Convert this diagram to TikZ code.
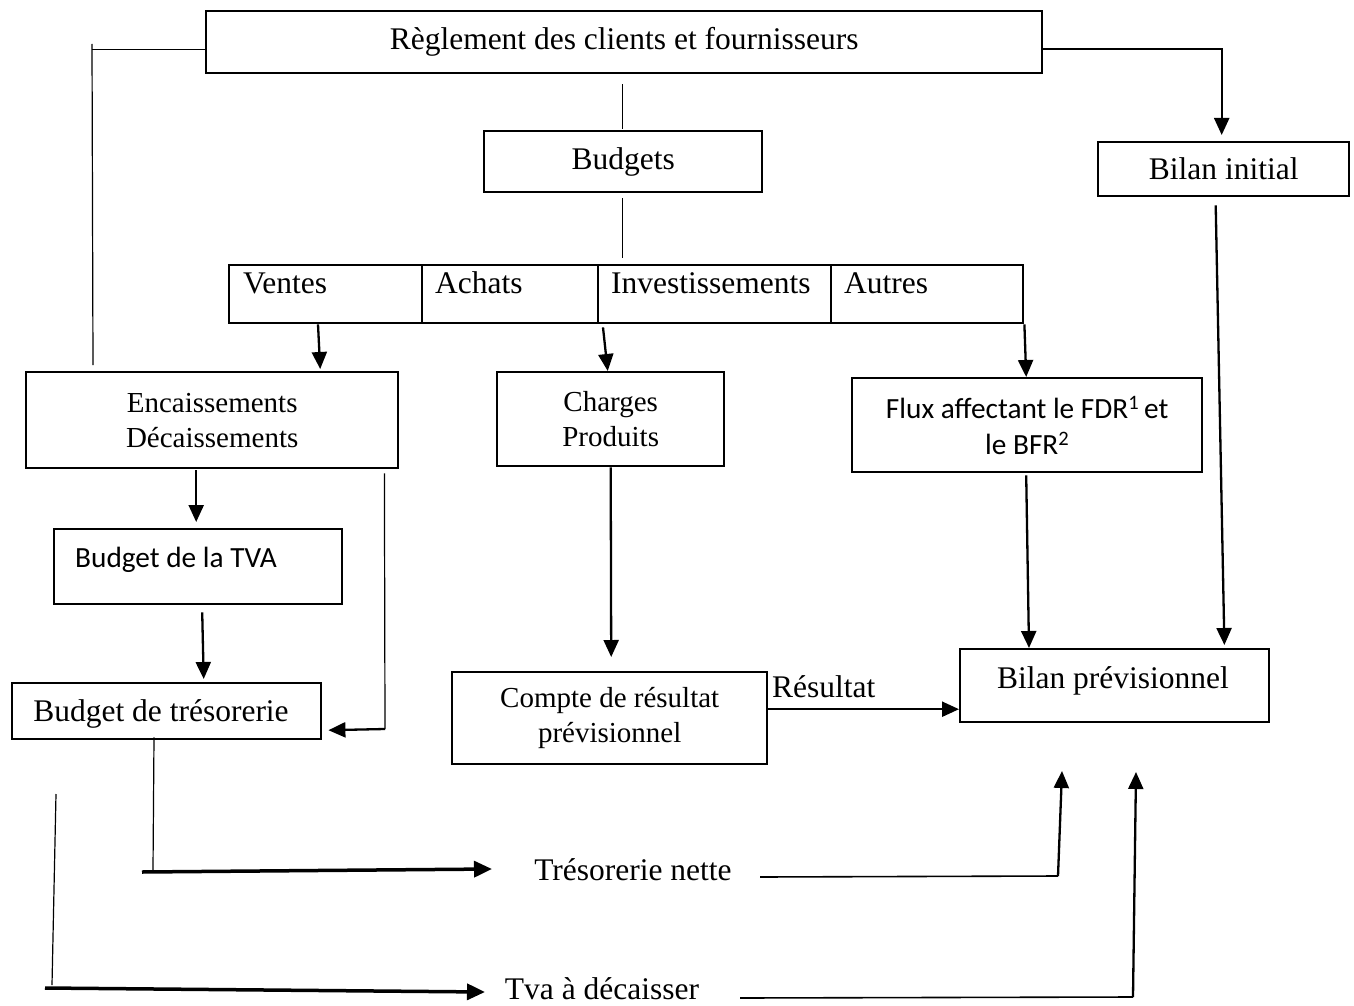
\documentclass[tikz,border=0pt]{standalone}
\usepackage{fontspec}
\setmainfont{Liberation Serif}
\newfontfamily\calibfont{Carlito}
\usetikzlibrary{arrows.meta,calc}
\begin{document}
\begin{tikzpicture}[x=1pt,y=-1pt,
  box/.style={draw,line width=2.4pt,inner sep=0pt,anchor=north west,align=center,
              font=\fontsize{31.5}{36}\selectfont},
  lbl/.style={font=\fontsize{31.5}{36}\selectfont,inner sep=0pt},
  sml/.style={font=\fontsize{29}{35}\selectfont},
  sans/.style={font=\calibfont\fontsize{29.3}{36}\selectfont},
  thinln/.style={line width=1.2pt},
  medln/.style={line width=1.6pt},
  arr/.style={line width=2.3pt,-{Triangle[length=17pt,width=15pt]}},
  bigarr/.style={line width=3.5pt,-{Triangle[length=18pt,width=16pt]}},
]
\useasboundingbox (0,0) rectangle (1354,1006);

% --- boxes ---
\node[box,minimum width=836pt,minimum height=62pt] (reg) at (205,10) {Règlement des clients et fournisseurs};
\node[box,minimum width=278pt,minimum height=61pt] (bud) at (483,130) {Budgets};
\node[box,minimum width=251pt,minimum height=54pt] (binit) at (1097,141) {Bilan initial};

% budget table
\node[box,minimum width=193pt,minimum height=58pt] (ventes) at (228,264) {};
\node[box,minimum width=176pt,minimum height=58pt] (achats) at (421,264) {};
\node[box,minimum width=233pt,minimum height=58pt] (invest) at (597,264) {};
\node[box,minimum width=192pt,minimum height=58pt] (autres) at (830,264) {};
\node[lbl,anchor=base west] (ventesT) at (243,293) {Ventes};
\node[lbl,anchor=base west] (achatsT) at (435,293) {Achats};
\node[lbl,anchor=base west] (investT) at (611,293) {Investissements};
\node[lbl,anchor=base west] (autresT) at (844,293) {Autres};

\node[box,sml,minimum width=372pt,minimum height=96pt] (enc) at (25,371) {Encaissements\\Décaissements};
\node[box,sml,minimum width=227pt,minimum height=94pt] (chg) at (496,371) {Charges\\Produits};
\node[box,sans,minimum width=350pt,minimum height=94pt] (flux) at (851,377)
  {Flux affectant le FDR\textsuperscript{1}\,et\\le BFR\textsuperscript{2}};

\node[box,minimum width=288pt,minimum height=75pt] (tva) at (53,528) {};
\node[sans,anchor=base west,inner sep=0pt] (tvaT) at (75,567) {Budget de la TVA};

\node[box,minimum width=309pt,minimum height=56pt] (btr) at (11,682) {};
\node[lbl,anchor=base] (btrT) at (161,721) {Budget de trésorerie};

\node[box,sml,minimum width=315pt,minimum height=92pt] (crp) at (451,671) {Compte de résultat\\prévisionnel};
\node[box,minimum width=309pt,minimum height=73pt] (bprev) at (959,648) {};
\node[lbl,anchor=base] (bprevT) at (1113,688) {Bilan prévisionnel};

% --- free labels ---
\node[lbl,anchor=base west] (res) at (772,697) {Résultat};
\node[lbl,anchor=base] (tn) at (633,880) {Trésorerie nette};
\node[lbl,anchor=base] (tvad) at (602,999) {Tva à décaisser};

% --- named free ends ---
\coordinate (ltop) at (92,44);
\coordinate (lbot) at (93,365);
\coordinate (tnFrom) at (142,872);
\coordinate (tnTo) at (492,869);
\coordinate (tnOut) at (760,877);
\coordinate (tnCorner) at (1058,876);
\coordinate (tnUp) at (1062,771);
\coordinate (tvTop) at (56,794);
\coordinate (tvBot) at (52,985);
\coordinate (tvFrom) at (45,988);
\coordinate (tvTo) at (485,992);
\coordinate (tvOut) at (740,998);
\coordinate (tvCorner) at (1133,997);
\coordinate (tvUp) at (1136,772);
\coordinate (btrDown) at (153,870);
\coordinate (encCorner) at (385,729);

% --- connectors ---
\draw[thinln] ($(reg.south)+(-2,10)$) -- ($(bud.north)+(-1,-1)$);
\draw[thinln] ($(bud.south)+(-1,5)$) -- ++(0,60);
\draw[thinln] ([yshift=-7pt]reg.west) -- ++(-113,0);
\draw[thinln] (ltop) -- (lbot);
\draw[arr] ([yshift=-7pt]reg.east) -| ($(binit.north)+(-2,-6)$);

\draw[arr] ($(ventes.south west)+(90,0)$) -- ($(enc.north)+(108,-2)$);
\draw[arr] ($(invest.south west)+(6,3)$) -- ($(chg.north)+(-3,0)$);
\draw[arr] (autres.south east) -- ($(flux.north)+(-1,0)$);

\draw[arr] ($(enc.south)+(-16,1)$) -- ($(tva.north)+(-2,-6)$);
\draw[arr] ($(tva.south)+(4,7)$) -- ($(btr.north)+(37,-3)$);
\draw[thinln] ($(enc.south east)+(-15,4)$) -- (encCorner);
\draw[arr] (encCorner) -- ($(btr.east)+(6,19)$);

\draw[arr] (chg.south) -- ($(crp.north)+(1.5,-14)$);
\draw[arr] ($(crp.east)+(0,-9)$) -- ($(bprev.west)+(0,23.5)$);
\draw[arr] ($(flux.south)+(-1,2)$) -- ($(bprev.north west)+(70,0)$);
\draw[arr] ($(binit.south)+(-8,8)$) -- ($(bprev.north east)+(-46,-3)$);

\draw[thinln] ($(btr.south west)+(143,-3)$) -- (btrDown);
\draw[bigarr] (tnFrom) -- (tnTo);
\draw[medln] (tnOut) -- (tnCorner);
\draw[arr] (tnCorner) -- (tnUp);

\draw[thinln] (tvTop) -- (tvBot);
\draw[bigarr] (tvFrom) -- (tvTo);
\draw[medln] (tvOut) -- (tvCorner);
\draw[arr] (tvCorner) -- (tvUp);
\end{tikzpicture}
\end{document}
